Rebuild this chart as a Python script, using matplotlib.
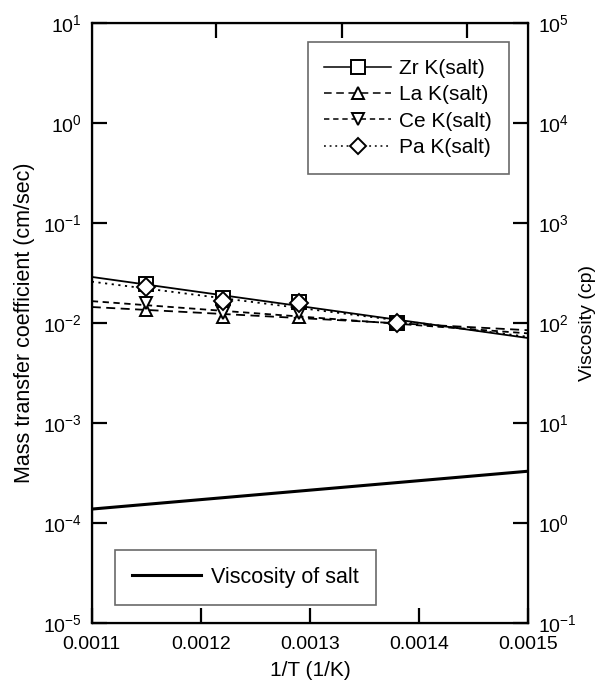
import matplotlib
matplotlib.use('Agg')
import matplotlib.pyplot as plt
from matplotlib.lines import Line2D
from matplotlib.ticker import LogLocator, FixedLocator, NullFormatter, FuncFormatter
import numpy as np

plt.rcParams['font.family'] = ['Liberation Sans', 'DejaVu Sans']
plt.rcParams['mathtext.fontset'] = 'custom'
plt.rcParams['mathtext.rm'] = 'Liberation Sans'
plt.rcParams['mathtext.it'] = 'Liberation Sans'
plt.rcParams['mathtext.default'] = 'regular'
plt.rcParams['axes.unicode_minus'] = False

# measured points (1/T vs mass transfer coefficient)
inv_t = [0.00115, 0.00122, 0.00129, 0.00138]
zr_k = [0.0245, 0.0178, 0.0162, 0.0100]
la_k = [0.0135, 0.0115, 0.0115, 0.0098]
ce_k = [0.0158, 0.0126, 0.0125, 0.0098]
pa_k = [0.0230, 0.0165, 0.0160, 0.0100]

# fitted lines, read at the two ends of the axis
fit_x = [0.0011, 0.0015]
zr_fit = [0.029, 0.0071]
la_fit = [0.0145, 0.0085]
ce_fit = [0.0166, 0.0079]
pa_fit = [0.026, 0.0073]

# viscosity of the salt (cp), right axis
visc_x = [0.0011, 0.0015]
visc_cp = [1.38, 3.3]

series = [
    ('Zr K(salt)', zr_k, zr_fit, 's', '-'),
    ('La K(salt)', la_k, la_fit, '^', (0, (5, 3))),
    ('Ce K(salt)', ce_k, ce_fit, 'v', (0, (3.5, 2.5))),
    ('Pa K(salt)', pa_k, pa_fit, 'D', (0, (1.2, 2.5))),
]
msizes = {'s': 10, '^': 9, 'v': 9, 'D': 9}


def pow10(v, pos):
    return r'$10^{%d}$' % int(round(np.log10(v)))


fig = plt.figure(figsize=(6, 6.85), dpi=100)
ax = fig.add_axes([0.153, 0.0905, 0.727, 0.8755])

handles = []
for name, k, fit, mk, ls in series:
    ax.plot(fit_x, fit, color='black', lw=1.3, linestyle=ls)
    ax.plot(inv_t, k, linestyle='none', marker=mk, ms=msizes[mk],
            mfc='white', mec='black', mew=1.4)
    handles.append(Line2D([], [], color='black', lw=1.1, linestyle=ls, marker=mk,
                          ms=msizes[mk] - 0.5, mfc='white', mec='black', mew=1.4))

ax.set_yscale('log')
ax.set_xlim(0.0011, 0.0015)
ax.set_ylim(1e-5, 1e1)
ax.set_xticks([0.0011, 0.0012, 0.0013, 0.0014, 0.0015])
ax.set_xticklabels(['0.0011', '0.0012', '0.0013', '0.0014', '0.0015'])
ax.yaxis.set_major_locator(LogLocator(base=10, numticks=10))
ax.yaxis.set_major_formatter(FuncFormatter(pow10))
ax.yaxis.set_minor_locator(FixedLocator([]))
ax.tick_params(axis='both', direction='in', length=11, width=1.6, labelsize=14)
ax.tick_params(axis='x', pad=9)
ax.tick_params(axis='y', pad=7)
ax.set_xlabel('1/T (1/K)', fontsize=15, labelpad=6)
ax.set_ylabel('Mass transfer coefficient (cm/sec)', fontsize=15.5, labelpad=6)
for s in ax.spines.values():
    s.set_linewidth(1.6)

leg = ax.legend(handles, [s[0] for s in series], loc='upper right',
                bbox_to_anchor=(0.956, 0.968), fontsize=15, frameon=True,
                fancybox=False, edgecolor='#444444', handlelength=3.2,
                handletextpad=0.4, borderpad=0.8, labelspacing=0.35,
                borderaxespad=0)
leg.get_frame().set_linewidth(1.2)

# right axis: viscosity
ax2 = ax.twinx()
ax2.plot(visc_x, visc_cp, color='black', lw=2.2, label='Viscosity of salt')
ax2.set_yscale('log')
ax2.set_ylim(1e-1, 1e5)
ax2.yaxis.set_major_locator(LogLocator(base=10, numticks=10))
ax2.yaxis.set_major_formatter(FuncFormatter(pow10))
ax2.yaxis.set_minor_locator(FixedLocator([]))
ax2.tick_params(axis='y', direction='in', length=11, width=1.6, labelsize=14, pad=7)
ax2.set_ylabel('Viscosity (cp)', fontsize=14, labelpad=2)
leg2 = ax2.legend(loc='lower left', bbox_to_anchor=(0.053, 0.03), fontsize=15.5,
                  fancybox=False, edgecolor='#444444', handlelength=3.2,
                  handletextpad=0.45, borderpad=0.8, borderaxespad=0)
leg2.get_frame().set_linewidth(1.2)

# top ticks (unlabelled)
ax3 = ax.twiny()
ax3.set_xlim(0.0011, 0.0015)
ax3.set_xticks([0.001214, 0.001329, 0.001444])
ax3.xaxis.set_major_formatter(NullFormatter())
ax3.tick_params(axis='x', direction='in', length=11, width=1.6)

fig.savefig('out.png', dpi=100)
